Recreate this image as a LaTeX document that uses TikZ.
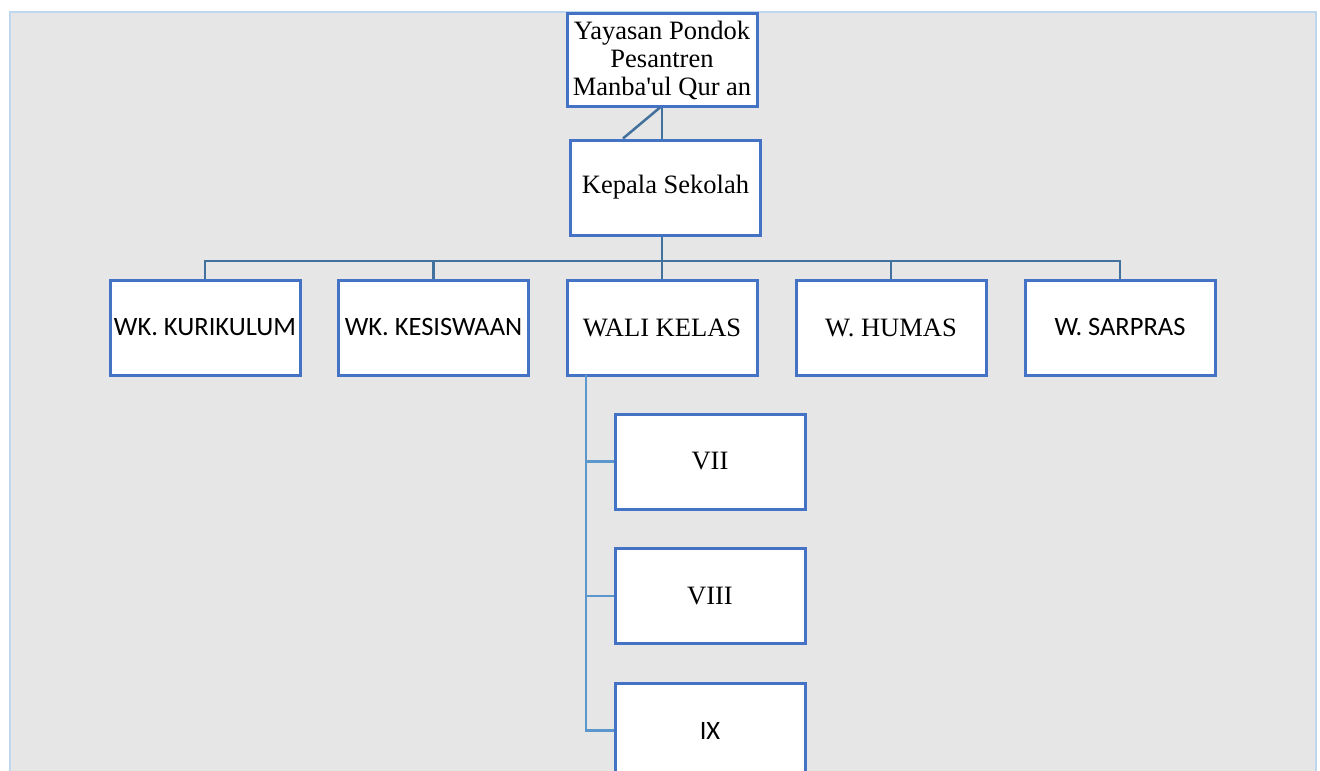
\documentclass[tikz,border=0pt]{standalone}
\usepackage{fontspec}
\setmainfont{Liberation Serif}
\newfontfamily\calibri{Carlito}
\usepackage{tikz}
\usetikzlibrary{calc}

\definecolor{panel}{RGB}{230,230,230}
\definecolor{rim}{RGB}{189,215,238}
\definecolor{boxblue}{RGB}{68,114,196}
\definecolor{lineblue}{RGB}{65,113,156}
\definecolor{spineblue}{RGB}{91,150,205}

\tikzset{
  kotak/.style={draw=boxblue, fill=white, line width=3pt, minimum width=190pt,
    minimum height=95pt, inner sep=0pt, align=center,
    font=\fontsize{26.5}{28}\selectfont},
  garis/.style={draw=lineblue, line width=2.5pt},
}

\begin{document}
\begin{tikzpicture}[x=1pt,y=-1pt]
\useasboundingbox (0,0) rectangle (1320,771);
\clip (0,0) rectangle (1320,771);
\fill[panel] (10,12) rectangle (1316,800);
\draw[rim, line width=2.5pt] (10,800) -- (10,12) -- (1316,12) -- (1316,800);
\node[kotak, minimum height=93pt, text depth=2pt] (yys) at (662,59.5) {Yayasan Pondok\\Pesantren\\Manba\textquotesingle ul Qur an};
\node[kotak] (kep) at (665.5,187.5) {Kepala Sekolah};
\def\xs{{205,433.5,662,891,1120}}
\foreach \i/\t in {0/{\calibri WK. KURIKULUM},1/{\calibri WK. KESISWAAN},2/WALI KELAS,3/W. HUMAS,4/{\calibri W. SARPRAS}} {
  \pgfmathsetmacro{\x}{\xs[\i]}
  \node[kotak] (a_\i) at (\x,327.5) {\t};
}
\foreach \i/\t/\y in {0/VII/461.5,1/VIII/596,2/{\calibri IX}/730.5} {
  \node[kotak] (k_\i) at (710,\y) {\t};
}
\draw[garis] (yys.south) -- (yys.south |- kep.north);
\draw[garis] ([xshift=-2pt]yys.south) -- ($(kep.north west)+(54,0)$);
\coordinate (bus) at (662,261);
\draw[garis] (a_2 |- kep.south) -- (bus);
\foreach \i in {0,...,4} {
  \draw[garis] (a_\i.north) |- (bus);
}
\coordinate (tiang) at (586,375);
\foreach \i in {0,1,2} {
  \draw[garis, draw=spineblue] (tiang) |- (k_\i.west);
}
\end{tikzpicture}
\end{document}
